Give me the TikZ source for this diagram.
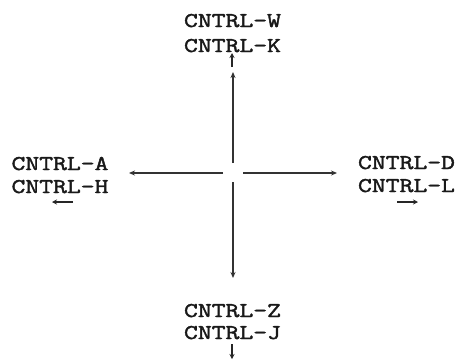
\documentclass[tikz,border=0pt]{standalone}
\usepackage{fontspec}
\newfontfamily\keyfont{Latin Modern Mono}[FakeStretch=1.28, FakeBold=2]
\usetikzlibrary{arrows.meta}
\tikzset{
  keylabel/.style={font=\keyfont\fontsize{21}{22}\selectfont, inner sep=0pt, anchor=base, text=black!90},
  axis/.style={line width=1.3pt, draw=black!80, -{Stealth[length=6pt,width=5pt]}},
  hint/.style={line width=1.2pt, draw=black!85, -{Stealth[length=5pt,width=5pt]}}
}
\begin{document}
\begin{tikzpicture}[x=1pt,y=-1pt]
\useasboundingbox (0,0) rectangle (458,360);

% centre of the cross
\coordinate (c) at (233,173);

% key labels, two lines each
\node[keylabel] (upA)    at (232.5,27)  {CNTRL-W};
\node[keylabel] (upB)    at (232.5,52)  {CNTRL-K};
\node[keylabel] (leftA)  at (60,170)    {CNTRL-A};
\node[keylabel] (leftB)  at (60,193)    {CNTRL-H};
\node[keylabel] (rightA) at (406.5,169) {CNTRL-D};
\node[keylabel] (rightB) at (406.5,192) {CNTRL-L};
\node[keylabel] (downA)  at (232.5,317) {CNTRL-Z};
\node[keylabel] (downB)  at (232.5,339) {CNTRL-J};

% ends of the four axes
\coordinate (upS)    at (233,163);
\coordinate (upE)    at (233,72);
\coordinate (downS)  at (233,182);
\coordinate (downE)  at (233,278);
\coordinate (leftS)  at (223,173);
\coordinate (leftE)  at (129,173);
\coordinate (rightS) at (243,173);
\coordinate (rightE) at (337,173);

\draw[axis] (upS) -- (upE);
\draw[axis] (downS) -- (downE);
\draw[axis] (leftS) -- (leftE);
\draw[axis] (rightS) -- (rightE);

% small direction marks under the labels
\coordinate (upM1)    at (232,67);
\coordinate (upM2)    at (232,53);
\coordinate (leftM1)  at (73,202);
\coordinate (leftM2)  at (52,202);
\coordinate (rightM1) at (397,202);
\coordinate (rightM2) at (418,202);
\coordinate (downM1)  at (232,344);
\coordinate (downM2)  at (232,359);

\draw[hint] (upM1) -- (upM2);
\draw[hint] (leftM1) -- (leftM2);
\draw[hint] (rightM1) -- (rightM2);
\draw[hint] (downM1) -- (downM2);
\end{tikzpicture}
\end{document}
